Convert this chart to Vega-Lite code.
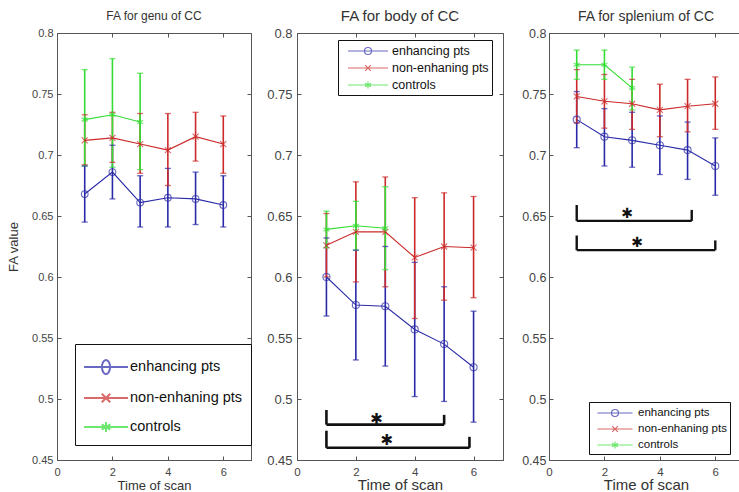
{
  "$schema": "https://vega.github.io/schema/vega-lite/v6.json",
  "padding": {"left": 6, "top": 8, "right": 0, "bottom": 0},
  "background": "white",
  "config": {
    "font": "Liberation Sans",
    "view": {"stroke": "#555", "strokeWidth": 1},
    "axis": {"grid": false, "labelFlush": false, "labelOverlap": false}
  },
  "datasets": {
    "pts": [
      {"panel": "genu", "series": "enhancing pts", "t": 1, "v": 0.668, "lo": 0.645, "hi": 0.691},
      {"panel": "genu", "series": "enhancing pts", "t": 2, "v": 0.686, "lo": 0.664, "hi": 0.708},
      {"panel": "genu", "series": "enhancing pts", "t": 3, "v": 0.661, "lo": 0.641, "hi": 0.683},
      {"panel": "genu", "series": "enhancing pts", "t": 4, "v": 0.665, "lo": 0.641, "hi": 0.689},
      {"panel": "genu", "series": "enhancing pts", "t": 5, "v": 0.664, "lo": 0.643, "hi": 0.686},
      {"panel": "genu", "series": "enhancing pts", "t": 6, "v": 0.659, "lo": 0.641, "hi": 0.683},
      {"panel": "genu", "series": "non-enhaning pts", "t": 1, "v": 0.712, "lo": 0.692, "hi": 0.733},
      {"panel": "genu", "series": "non-enhaning pts", "t": 2, "v": 0.714, "lo": 0.694, "hi": 0.735},
      {"panel": "genu", "series": "non-enhaning pts", "t": 3, "v": 0.709, "lo": 0.685, "hi": 0.734},
      {"panel": "genu", "series": "non-enhaning pts", "t": 4, "v": 0.704, "lo": 0.675, "hi": 0.734},
      {"panel": "genu", "series": "non-enhaning pts", "t": 5, "v": 0.715, "lo": 0.695, "hi": 0.735},
      {"panel": "genu", "series": "non-enhaning pts", "t": 6, "v": 0.709, "lo": 0.685, "hi": 0.732},
      {"panel": "genu", "series": "controls", "t": 1, "v": 0.729, "lo": 0.691, "hi": 0.770},
      {"panel": "genu", "series": "controls", "t": 2, "v": 0.733, "lo": 0.690, "hi": 0.779},
      {"panel": "genu", "series": "controls", "t": 3, "v": 0.727, "lo": 0.688, "hi": 0.767},
      {"panel": "body", "series": "enhancing pts", "t": 1, "v": 0.600, "lo": 0.568, "hi": 0.632},
      {"panel": "body", "series": "enhancing pts", "t": 2, "v": 0.577, "lo": 0.532, "hi": 0.622},
      {"panel": "body", "series": "enhancing pts", "t": 3, "v": 0.576, "lo": 0.527, "hi": 0.625},
      {"panel": "body", "series": "enhancing pts", "t": 4, "v": 0.557, "lo": 0.502, "hi": 0.612},
      {"panel": "body", "series": "enhancing pts", "t": 5, "v": 0.545, "lo": 0.498, "hi": 0.592},
      {"panel": "body", "series": "enhancing pts", "t": 6, "v": 0.526, "lo": 0.481, "hi": 0.572},
      {"panel": "body", "series": "non-enhaning pts", "t": 1, "v": 0.626, "lo": 0.600, "hi": 0.652},
      {"panel": "body", "series": "non-enhaning pts", "t": 2, "v": 0.637, "lo": 0.596, "hi": 0.678},
      {"panel": "body", "series": "non-enhaning pts", "t": 3, "v": 0.637, "lo": 0.592, "hi": 0.682},
      {"panel": "body", "series": "non-enhaning pts", "t": 4, "v": 0.616, "lo": 0.566, "hi": 0.665},
      {"panel": "body", "series": "non-enhaning pts", "t": 5, "v": 0.625, "lo": 0.581, "hi": 0.669},
      {"panel": "body", "series": "non-enhaning pts", "t": 6, "v": 0.624, "lo": 0.583, "hi": 0.666},
      {"panel": "body", "series": "controls", "t": 1, "v": 0.639, "lo": 0.624, "hi": 0.654},
      {"panel": "body", "series": "controls", "t": 2, "v": 0.642, "lo": 0.622, "hi": 0.662},
      {"panel": "body", "series": "controls", "t": 3, "v": 0.640, "lo": 0.606, "hi": 0.674},
      {"panel": "splenium", "series": "enhancing pts", "t": 1, "v": 0.729, "lo": 0.706, "hi": 0.752},
      {"panel": "splenium", "series": "enhancing pts", "t": 2, "v": 0.715, "lo": 0.691, "hi": 0.738},
      {"panel": "splenium", "series": "enhancing pts", "t": 3, "v": 0.712, "lo": 0.690, "hi": 0.735},
      {"panel": "splenium", "series": "enhancing pts", "t": 4, "v": 0.708, "lo": 0.684, "hi": 0.732},
      {"panel": "splenium", "series": "enhancing pts", "t": 5, "v": 0.704, "lo": 0.680, "hi": 0.727},
      {"panel": "splenium", "series": "enhancing pts", "t": 6, "v": 0.691, "lo": 0.667, "hi": 0.714},
      {"panel": "splenium", "series": "non-enhaning pts", "t": 1, "v": 0.748, "lo": 0.726, "hi": 0.770},
      {"panel": "splenium", "series": "non-enhaning pts", "t": 2, "v": 0.744, "lo": 0.722, "hi": 0.766},
      {"panel": "splenium", "series": "non-enhaning pts", "t": 3, "v": 0.742, "lo": 0.721, "hi": 0.762},
      {"panel": "splenium", "series": "non-enhaning pts", "t": 4, "v": 0.737, "lo": 0.715, "hi": 0.758},
      {"panel": "splenium", "series": "non-enhaning pts", "t": 5, "v": 0.740, "lo": 0.719, "hi": 0.762},
      {"panel": "splenium", "series": "non-enhaning pts", "t": 6, "v": 0.742, "lo": 0.721, "hi": 0.764},
      {"panel": "splenium", "series": "controls", "t": 1, "v": 0.774, "lo": 0.762, "hi": 0.786},
      {"panel": "splenium", "series": "controls", "t": 2, "v": 0.774, "lo": 0.762, "hi": 0.786},
      {"panel": "splenium", "series": "controls", "t": 3, "v": 0.755, "lo": 0.737, "hi": 0.772}
    ],
    "br": [
      {"panel": "body", "x1": 1, "x2": 5, "y1": 0.479, "y2": 0.479},
      {"panel": "body", "x1": 1, "x2": 1, "y1": 0.479, "y2": 0.491},
      {"panel": "body", "x1": 5, "x2": 5, "y1": 0.479, "y2": 0.487},
      {"panel": "body", "x1": 1, "x2": 5.86, "y1": 0.460, "y2": 0.460},
      {"panel": "body", "x1": 1, "x2": 1, "y1": 0.460, "y2": 0.474},
      {"panel": "body", "x1": 5.86, "x2": 5.86, "y1": 0.460, "y2": 0.469},
      {"panel": "splenium", "x1": 1, "x2": 5.15, "y1": 0.646, "y2": 0.646},
      {"panel": "splenium", "x1": 1, "x2": 1, "y1": 0.646, "y2": 0.659},
      {"panel": "splenium", "x1": 5.15, "x2": 5.15, "y1": 0.646, "y2": 0.655},
      {"panel": "splenium", "x1": 1, "x2": 6, "y1": 0.622, "y2": 0.622},
      {"panel": "splenium", "x1": 1, "x2": 1, "y1": 0.622, "y2": 0.634},
      {"panel": "splenium", "x1": 6, "x2": 6, "y1": 0.622, "y2": 0.630}
    ],
    "st": [
      {"panel": "body", "x": 2.7, "y": 0.484},
      {"panel": "body", "x": 3.05, "y": 0.466},
      {"panel": "splenium", "x": 2.82, "y": 0.652},
      {"panel": "splenium", "x": 3.18, "y": 0.628}
    ]
  },
  "resolve": {"scale": {"color": "independent", "shape": "independent"}, "legend": {"color": "independent", "shape": "independent"}},
  "spacing": 12,
  "hconcat": [
    {
      "width": 194, "height": 427,
      "title": {"text": "FA for genu of CC", "fontSize": 12, "fontWeight": "normal", "color": "#333", "offset": 4},
      "resolve": {"axis": {"x": "independent", "y": "independent"}},
      "layer": [
        {
          "data": {"name": "pts"}, "transform": [{"filter": "datum.panel === 'genu' && datum.t > 99"}],
          "mark": {"type": "point", "filled": false},
          "encoding": {
            "x": {"field": "t", "type": "quantitative", "scale": {"domain": [0, 7], "nice": false},
              "axis": {"orient": "bottom", "values": [0, 2, 4, 6], "format": "~g", "tickSize": -4, "labelPadding": 10, "labelFontSize": 11, "labelColor": "#444", "domainColor": "#555", "tickColor": "#555", "title": "Time of scan", "titleFontSize": 13, "titleFontWeight": "normal", "titleColor": "#333", "titlePadding": 2}},
            "y": {"field": "v", "type": "quantitative", "scale": {"domain": [0.45, 0.8], "nice": false, "zero": false},
              "axis": {"orient": "left", "values": [0.45, 0.5, 0.55, 0.6, 0.65, 0.7, 0.75, 0.8], "format": "~g", "tickSize": -4, "labelPadding": 8, "labelFontSize": 11, "labelColor": "#444", "domainColor": "#555", "tickColor": "#555", "title": "FA value", "titleFontSize": 13, "titleFontWeight": "normal", "titleColor": "#333", "titlePadding": 7, "minExtent": 30, "maxExtent": 30}},
            "color": {"field": "series", "type": "nominal", "scale": {"domain": ["enhancing pts", "non-enhaning pts", "controls"], "range": ["#2a2aa8", "#cc2a2a", "#33dd33"]},
              "legend": {"orient": "none", "legendX": 18, "legendY": 311, "title": null, "direction": "vertical", "strokeColor": "#111", "padding": 8, "fillColor": "white", "symbolSize": 784, "symbolStrokeWidth": 2, "symbolFillColor": "transparent", "symbolOffset": 8, "labelOffset": 9, "rowPadding": 5, "labelFont": "Liberation Sans", "labelFontSize": 14.5, "labelColor": "#111", "labelLimit": 300}},
            "shape": {"field": "series", "type": "nominal", "scale": {"domain": ["enhancing pts", "non-enhaning pts", "controls"], "range": ["M-1.57,0L1.57,0M0.29,0A0.29,0.5,0,1,1,-0.29,0A0.29,0.5,0,1,1,0.29,0M0.29,0A0.29,0.5,0,1,0,-0.29,0A0.29,0.5,0,1,0,0.29,0", "M-1.57,0L1.57,0M-0.3,-0.3L0.3,0.3M-0.3,0.3L0.3,-0.3", "M-1.57,0L1.57,0M0,-0.36L0,0.36M-0.31,-0.18L0.31,0.18M-0.31,0.18L0.31,-0.18"]},
              "legend": {"orient": "none", "legendX": 18, "legendY": 311, "title": null, "direction": "vertical", "strokeColor": "#111", "padding": 8, "fillColor": "white", "symbolSize": 784, "symbolStrokeWidth": 2, "symbolFillColor": "transparent", "symbolOffset": 8, "labelOffset": 9, "rowPadding": 5, "labelFont": "Liberation Sans", "labelFontSize": 14.5, "labelColor": "#111", "labelLimit": 300}}
          }
        },
        {
          "data": {"name": "pts"}, "transform": [{"filter": "datum.panel === 'genu'"}],
          "mark": {"type": "rule", "strokeWidth": 1.6},
          "encoding": {
            "x": {"field": "t", "type": "quantitative", "axis": null},
            "y": {"field": "lo", "type": "quantitative", "axis": null},
            "y2": {"field": "hi"},
            "color": {"field": "series", "type": "nominal"}
          }
        },
        {
          "data": {"name": "pts"}, "transform": [{"filter": "datum.panel === 'genu'"}],
          "mark": {"type": "tick", "orient": "horizontal", "size": 6, "thickness": 1.3},
          "encoding": {
            "x": {"field": "t", "type": "quantitative", "axis": null},
            "y": {"field": "lo", "type": "quantitative", "axis": null},
            "color": {"field": "series", "type": "nominal"}
          }
        },
        {
          "data": {"name": "pts"}, "transform": [{"filter": "datum.panel === 'genu'"}],
          "mark": {"type": "tick", "orient": "horizontal", "size": 6, "thickness": 1.3},
          "encoding": {
            "x": {"field": "t", "type": "quantitative", "axis": null},
            "y": {"field": "hi", "type": "quantitative", "axis": null},
            "color": {"field": "series", "type": "nominal"}
          }
        },
        {
          "data": {"name": "pts"}, "transform": [{"filter": "datum.panel === 'genu'"}],
          "mark": {"type": "line", "strokeWidth": 1.1},
          "encoding": {
            "x": {"field": "t", "type": "quantitative",
              "axis": {"orient": "top", "values": [0, 2, 4, 6], "labels": false, "domain": false, "tickSize": -4, "tickColor": "#555", "title": null}},
            "y": {"field": "v", "type": "quantitative",
              "axis": {"orient": "right", "values": [0.45, 0.5, 0.55, 0.6, 0.65, 0.7, 0.75, 0.8], "labels": false, "domain": false, "tickSize": -4, "tickColor": "#555", "title": null}},
            "color": {"field": "series", "type": "nominal"}
          }
        },
        {
          "data": {"name": "pts"}, "transform": [{"filter": "datum.panel === 'genu' && datum.series === 'enhancing pts'"}],
          "mark": {"type": "point", "shape": "circle", "filled": false, "strokeWidth": 1.1, "size": 45},
          "encoding": {"x": {"field": "t", "type": "quantitative", "axis": null}, "y": {"field": "v", "type": "quantitative", "axis": null}, "color": {"field": "series", "type": "nominal"}}
        },
        {
          "data": {"name": "pts"}, "transform": [{"filter": "datum.panel === 'genu' && datum.series === 'non-enhaning pts'"}],
          "mark": {"type": "point", "shape": "M-1,-1L1,1M-1,1L1,-1", "filled": false, "strokeWidth": 1.1, "size": 36},
          "encoding": {"x": {"field": "t", "type": "quantitative", "axis": null}, "y": {"field": "v", "type": "quantitative", "axis": null}, "color": {"field": "series", "type": "nominal"}}
        },
        {
          "data": {"name": "pts"}, "transform": [{"filter": "datum.panel === 'genu' && datum.series === 'controls'"}],
          "mark": {"type": "point", "shape": "M0,-1.1L0,1.1M-0.95,-0.55L0.95,0.55M-0.95,0.55L0.95,-0.55", "filled": false, "strokeWidth": 1.2, "size": 40},
          "encoding": {"x": {"field": "t", "type": "quantitative", "axis": null}, "y": {"field": "v", "type": "quantitative", "axis": null}, "color": {"field": "series", "type": "nominal"}}
        }
      ]
    },
    {
      "width": 206, "height": 427,
      "title": {"text": "FA for body of CC", "fontSize": 15, "fontWeight": "normal", "color": "#333", "offset": 3},
      "resolve": {"axis": {"x": "independent", "y": "independent"}},
      "layer": [
        {
          "data": {"name": "pts"}, "transform": [{"filter": "datum.panel === 'body' && datum.t > 99"}],
          "mark": {"type": "point", "filled": false},
          "encoding": {
            "x": {"field": "t", "type": "quantitative", "scale": {"domain": [0, 7], "nice": false},
              "axis": {"orient": "bottom", "values": [0, 2, 4, 6], "format": "~g", "tickSize": -4, "labelPadding": 10, "labelFontSize": 11.5, "labelColor": "#444", "domainColor": "#555", "tickColor": "#555", "title": "Time of scan", "titleFontSize": 15, "titleFontWeight": "normal", "titleColor": "#333", "titlePadding": 0}},
            "y": {"field": "v", "type": "quantitative", "scale": {"domain": [0.45, 0.8], "nice": false, "zero": false},
              "axis": {"orient": "left", "values": [0.45, 0.5, 0.55, 0.6, 0.65, 0.7, 0.75, 0.8], "format": "~g", "tickSize": -4, "labelPadding": 9, "labelFontSize": 13, "labelColor": "#444", "domainColor": "#555", "tickColor": "#555", "title": null, "minExtent": 32, "maxExtent": 32}},
            "color": {"field": "series", "type": "nominal", "scale": {"domain": ["enhancing pts", "non-enhaning pts", "controls"], "range": ["#2a2aa8", "#cc2a2a", "#33dd33"]},
              "legend": {"orient": "none", "legendX": 41, "legendY": 7, "title": null, "direction": "vertical", "strokeColor": "#111", "padding": 3, "fillColor": "white", "symbolSize": 196, "symbolStrokeWidth": 1.2, "symbolFillColor": "transparent", "symbolOffset": 19, "labelOffset": 16, "rowPadding": 2, "labelFont": "Liberation Sans", "labelFontSize": 12.5, "labelColor": "#111", "labelLimit": 300}},
            "shape": {"field": "series", "type": "nominal", "scale": {"domain": ["enhancing pts", "non-enhaning pts", "controls"], "range": ["M-2.86,0L2.86,0M0.5,0A0.5,0.5,0,1,1,-0.5,0A0.5,0.5,0,1,1,0.5,0M0.5,0A0.5,0.5,0,1,0,-0.5,0A0.5,0.5,0,1,0,0.5,0", "M-2.86,0L2.86,0M-0.4,-0.4L0.4,0.4M-0.4,0.4L0.4,-0.4", "M-2.86,0L2.86,0M0,-0.5L0,0.5M-0.43,-0.25L0.43,0.25M-0.43,0.25L0.43,-0.25"]},
              "legend": {"orient": "none", "legendX": 41, "legendY": 7, "title": null, "direction": "vertical", "strokeColor": "#111", "padding": 3, "fillColor": "white", "symbolSize": 196, "symbolStrokeWidth": 1.2, "symbolFillColor": "transparent", "symbolOffset": 19, "labelOffset": 16, "rowPadding": 2, "labelFont": "Liberation Sans", "labelFontSize": 12.5, "labelColor": "#111", "labelLimit": 300}}
          }
        },
        {
          "data": {"name": "pts"}, "transform": [{"filter": "datum.panel === 'body'"}],
          "mark": {"type": "rule", "strokeWidth": 1.6},
          "encoding": {
            "x": {"field": "t", "type": "quantitative", "axis": null},
            "y": {"field": "lo", "type": "quantitative", "axis": null},
            "y2": {"field": "hi"},
            "color": {"field": "series", "type": "nominal"}
          }
        },
        {
          "data": {"name": "pts"}, "transform": [{"filter": "datum.panel === 'body'"}],
          "mark": {"type": "tick", "orient": "horizontal", "size": 6, "thickness": 1.3},
          "encoding": {
            "x": {"field": "t", "type": "quantitative", "axis": null},
            "y": {"field": "lo", "type": "quantitative", "axis": null},
            "color": {"field": "series", "type": "nominal"}
          }
        },
        {
          "data": {"name": "pts"}, "transform": [{"filter": "datum.panel === 'body'"}],
          "mark": {"type": "tick", "orient": "horizontal", "size": 6, "thickness": 1.3},
          "encoding": {
            "x": {"field": "t", "type": "quantitative", "axis": null},
            "y": {"field": "hi", "type": "quantitative", "axis": null},
            "color": {"field": "series", "type": "nominal"}
          }
        },
        {
          "data": {"name": "pts"}, "transform": [{"filter": "datum.panel === 'body'"}],
          "mark": {"type": "line", "strokeWidth": 1.1},
          "encoding": {
            "x": {"field": "t", "type": "quantitative",
              "axis": {"orient": "top", "values": [0, 2, 4, 6], "labels": false, "domain": false, "tickSize": -4, "tickColor": "#555", "title": null}},
            "y": {"field": "v", "type": "quantitative",
              "axis": {"orient": "right", "values": [0.45, 0.5, 0.55, 0.6, 0.65, 0.7, 0.75, 0.8], "labels": false, "domain": false, "tickSize": -4, "tickColor": "#555", "title": null}},
            "color": {"field": "series", "type": "nominal"}
          }
        },
        {
          "data": {"name": "pts"}, "transform": [{"filter": "datum.panel === 'body' && datum.series === 'enhancing pts'"}],
          "mark": {"type": "point", "shape": "circle", "filled": false, "strokeWidth": 1.1, "size": 50},
          "encoding": {"x": {"field": "t", "type": "quantitative", "axis": null}, "y": {"field": "v", "type": "quantitative", "axis": null}, "color": {"field": "series", "type": "nominal"}}
        },
        {
          "data": {"name": "pts"}, "transform": [{"filter": "datum.panel === 'body' && datum.series === 'non-enhaning pts'"}],
          "mark": {"type": "point", "shape": "M-1,-1L1,1M-1,1L1,-1", "filled": false, "strokeWidth": 1.1, "size": 36},
          "encoding": {"x": {"field": "t", "type": "quantitative", "axis": null}, "y": {"field": "v", "type": "quantitative", "axis": null}, "color": {"field": "series", "type": "nominal"}}
        },
        {
          "data": {"name": "pts"}, "transform": [{"filter": "datum.panel === 'body' && datum.series === 'controls'"}],
          "mark": {"type": "point", "shape": "M0,-1.1L0,1.1M-0.95,-0.55L0.95,0.55M-0.95,0.55L0.95,-0.55", "filled": false, "strokeWidth": 1.2, "size": 40},
          "encoding": {"x": {"field": "t", "type": "quantitative", "axis": null}, "y": {"field": "v", "type": "quantitative", "axis": null}, "color": {"field": "series", "type": "nominal"}}
        },
        {
          "data": {"name": "br"}, "transform": [{"filter": "datum.panel === 'body'"}],
          "mark": {"type": "rule", "color": "#111", "strokeWidth": 2.6},
          "encoding": {
            "x": {"field": "x1", "type": "quantitative", "axis": null},
            "x2": {"field": "x2"},
            "y": {"field": "y1", "type": "quantitative", "axis": null},
            "y2": {"field": "y2"}
          }
        },
        {
          "data": {"name": "st"}, "transform": [{"filter": "datum.panel === 'body'"}],
          "mark": {"type": "text", "text": "✱", "font": "DejaVu Sans", "fontSize": 15, "color": "#111", "baseline": "middle", "align": "center"},
          "encoding": {
            "x": {"field": "x", "type": "quantitative", "axis": null},
            "y": {"field": "y", "type": "quantitative", "axis": null}
          }
        }
      ]
    },
    {
      "width": 194, "height": 427,
      "title": {"text": "FA for splenium of CC", "fontSize": 14, "fontWeight": "normal", "color": "#333", "offset": 3},
      "resolve": {"axis": {"x": "independent", "y": "independent"}},
      "layer": [
        {
          "data": {"name": "pts"}, "transform": [{"filter": "datum.panel === 'splenium' && datum.t > 99"}],
          "mark": {"type": "point", "filled": false},
          "encoding": {
            "x": {"field": "t", "type": "quantitative", "scale": {"domain": [0, 7], "nice": false},
              "axis": {"orient": "bottom", "values": [0, 2, 4, 6], "format": "~g", "tickSize": -4, "labelPadding": 10, "labelFontSize": 11.5, "labelColor": "#444", "domainColor": "#555", "tickColor": "#555", "title": "Time of scan", "titleFontSize": 15, "titleFontWeight": "normal", "titleColor": "#333", "titlePadding": 0}},
            "y": {"field": "v", "type": "quantitative", "scale": {"domain": [0.45, 0.8], "nice": false, "zero": false},
              "axis": {"orient": "left", "values": [0.45, 0.5, 0.55, 0.6, 0.65, 0.7, 0.75, 0.8], "format": "~g", "tickSize": -4, "labelPadding": 7, "labelFontSize": 12.5, "labelColor": "#444", "domainColor": "#555", "tickColor": "#555", "title": null, "minExtent": 32, "maxExtent": 32}},
            "color": {"field": "series", "type": "nominal", "scale": {"domain": ["enhancing pts", "non-enhaning pts", "controls"], "range": ["#2a2aa8", "#cc2a2a", "#33dd33"]},
              "legend": {"orient": "none", "legendX": 40, "legendY": 369, "title": null, "direction": "vertical", "strokeColor": "#111", "padding": 3, "fillColor": "white", "symbolSize": 196, "symbolStrokeWidth": 1.2, "symbolFillColor": "transparent", "symbolOffset": 15, "labelOffset": 15, "rowPadding": 2, "labelFont": "Liberation Sans", "labelFontSize": 11.5, "labelColor": "#111", "labelLimit": 300}},
            "shape": {"field": "series", "type": "nominal", "scale": {"domain": ["enhancing pts", "non-enhaning pts", "controls"], "range": ["M-2.5,0L2.5,0M0.5,0A0.5,0.5,0,1,1,-0.5,0A0.5,0.5,0,1,1,0.5,0M0.5,0A0.5,0.5,0,1,0,-0.5,0A0.5,0.5,0,1,0,0.5,0", "M-2.5,0L2.5,0M-0.4,-0.4L0.4,0.4M-0.4,0.4L0.4,-0.4", "M-2.5,0L2.5,0M0,-0.5L0,0.5M-0.43,-0.25L0.43,0.25M-0.43,0.25L0.43,-0.25"]},
              "legend": {"orient": "none", "legendX": 40, "legendY": 369, "title": null, "direction": "vertical", "strokeColor": "#111", "padding": 3, "fillColor": "white", "symbolSize": 196, "symbolStrokeWidth": 1.2, "symbolFillColor": "transparent", "symbolOffset": 15, "labelOffset": 15, "rowPadding": 2, "labelFont": "Liberation Sans", "labelFontSize": 11.5, "labelColor": "#111", "labelLimit": 300}}
          }
        },
        {
          "data": {"name": "pts"}, "transform": [{"filter": "datum.panel === 'splenium'"}],
          "mark": {"type": "rule", "strokeWidth": 1.6},
          "encoding": {
            "x": {"field": "t", "type": "quantitative", "axis": null},
            "y": {"field": "lo", "type": "quantitative", "axis": null},
            "y2": {"field": "hi"},
            "color": {"field": "series", "type": "nominal"}
          }
        },
        {
          "data": {"name": "pts"}, "transform": [{"filter": "datum.panel === 'splenium'"}],
          "mark": {"type": "tick", "orient": "horizontal", "size": 6, "thickness": 1.3},
          "encoding": {
            "x": {"field": "t", "type": "quantitative", "axis": null},
            "y": {"field": "lo", "type": "quantitative", "axis": null},
            "color": {"field": "series", "type": "nominal"}
          }
        },
        {
          "data": {"name": "pts"}, "transform": [{"filter": "datum.panel === 'splenium'"}],
          "mark": {"type": "tick", "orient": "horizontal", "size": 6, "thickness": 1.3},
          "encoding": {
            "x": {"field": "t", "type": "quantitative", "axis": null},
            "y": {"field": "hi", "type": "quantitative", "axis": null},
            "color": {"field": "series", "type": "nominal"}
          }
        },
        {
          "data": {"name": "pts"}, "transform": [{"filter": "datum.panel === 'splenium'"}],
          "mark": {"type": "line", "strokeWidth": 1.1},
          "encoding": {
            "x": {"field": "t", "type": "quantitative",
              "axis": {"orient": "top", "values": [0, 2, 4, 6], "labels": false, "domain": false, "tickSize": -4, "tickColor": "#555", "title": null}},
            "y": {"field": "v", "type": "quantitative",
              "axis": {"orient": "right", "values": [0.45, 0.5, 0.55, 0.6, 0.65, 0.7, 0.75, 0.8], "labels": false, "domain": false, "tickSize": -4, "tickColor": "#555", "title": null}},
            "color": {"field": "series", "type": "nominal"}
          }
        },
        {
          "data": {"name": "pts"}, "transform": [{"filter": "datum.panel === 'splenium' && datum.series === 'enhancing pts'"}],
          "mark": {"type": "point", "shape": "circle", "filled": false, "strokeWidth": 1.1, "size": 50},
          "encoding": {"x": {"field": "t", "type": "quantitative", "axis": null}, "y": {"field": "v", "type": "quantitative", "axis": null}, "color": {"field": "series", "type": "nominal"}}
        },
        {
          "data": {"name": "pts"}, "transform": [{"filter": "datum.panel === 'splenium' && datum.series === 'non-enhaning pts'"}],
          "mark": {"type": "point", "shape": "M-1,-1L1,1M-1,1L1,-1", "filled": false, "strokeWidth": 1.1, "size": 36},
          "encoding": {"x": {"field": "t", "type": "quantitative", "axis": null}, "y": {"field": "v", "type": "quantitative", "axis": null}, "color": {"field": "series", "type": "nominal"}}
        },
        {
          "data": {"name": "pts"}, "transform": [{"filter": "datum.panel === 'splenium' && datum.series === 'controls'"}],
          "mark": {"type": "point", "shape": "M0,-1.1L0,1.1M-0.95,-0.55L0.95,0.55M-0.95,0.55L0.95,-0.55", "filled": false, "strokeWidth": 1.2, "size": 40},
          "encoding": {"x": {"field": "t", "type": "quantitative", "axis": null}, "y": {"field": "v", "type": "quantitative", "axis": null}, "color": {"field": "series", "type": "nominal"}}
        },
        {
          "data": {"name": "br"}, "transform": [{"filter": "datum.panel === 'splenium'"}],
          "mark": {"type": "rule", "color": "#111", "strokeWidth": 2.4},
          "encoding": {
            "x": {"field": "x1", "type": "quantitative", "axis": null},
            "x2": {"field": "x2"},
            "y": {"field": "y1", "type": "quantitative", "axis": null},
            "y2": {"field": "y2"}
          }
        },
        {
          "data": {"name": "st"}, "transform": [{"filter": "datum.panel === 'splenium'"}],
          "mark": {"type": "text", "text": "✱", "font": "DejaVu Sans", "fontSize": 14, "color": "#111", "baseline": "middle", "align": "center"},
          "encoding": {
            "x": {"field": "x", "type": "quantitative", "axis": null},
            "y": {"field": "y", "type": "quantitative", "axis": null}
          }
        }
      ]
    }
  ]
}
